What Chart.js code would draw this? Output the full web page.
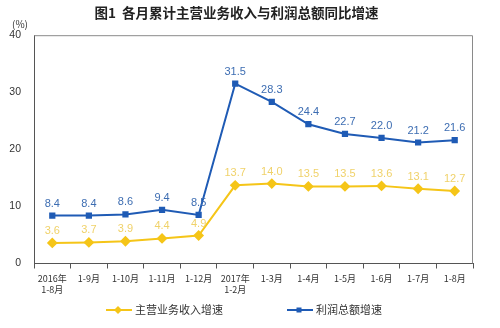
<!DOCTYPE html>
<html>
<head>
<meta charset="utf-8">
<script src="https://cdn.jsdelivr.net/npm/chart.js@4/dist/chart.umd.min.js"></script>
<style>
  html, body { margin: 0; padding: 0; background: #fff; }
  #wrap { width: 500px; height: 328px; }
</style>
</head>
<body>
<div id="wrap"><canvas id="growthChart" width="500" height="328"></canvas></div>
<script>
const months = [
  ["2016年", "1-8月"], "1-9月", "1-10月", "1-11月", "1-12月",
  ["2017年", "1-2月"], "1-3月", "1-4月", "1-5月", "1-6月", "1-7月", "1-8月"
];
const revenueGrowth = [3.6, 3.7, 3.9, 4.4, 4.9, 13.7, 14.0, 13.5, 13.5, 13.6, 13.1, 12.7];
const profitGrowth = [8.4, 8.4, 8.6, 9.4, 8.5, 31.5, 28.3, 24.4, 22.7, 22.0, 21.2, 21.6];
const yTicks = [0, 10, 20, 30, 40];

const BLUE = "#1f5bb5";
const BLUE_LABEL = "#3d6db2";
const YELLOW = "#f5c518";
const YELLOW_LABEL = "#f0d26a";
const CJK = "'Noto Sans CJK SC', 'Noto Sans', sans-serif";
const LATIN = "'Liberation Sans', Arial, sans-serif";

function drawMarker(ctx, shape, x, y) {
  if (shape === "rectRot") {
    ctx.beginPath();
    ctx.moveTo(x, y - 4); ctx.lineTo(x + 4, y); ctx.lineTo(x, y + 4); ctx.lineTo(x - 4, y);
    ctx.closePath(); ctx.fill();
  } else {
    ctx.fillRect(x - 2.5, y - 2.5, 5, 5);
  }
}

// value labels above each point
const valueLabels = {
  id: "valueLabels",
  afterDatasetsDraw(chart) {
    const ctx = chart.ctx;
    ctx.save();
    ctx.font = "11px " + LATIN;
    ctx.textAlign = "center";
    ctx.textBaseline = "middle";
    chart.data.datasets.forEach((ds, i) => {
      const meta = chart.getDatasetMeta(i);
      ctx.fillStyle = ds.labelColor;
      meta.data.forEach((pt, j) => {
        ctx.fillText(ds.data[j].toFixed(1), pt.x, pt.y - 12);
      });
    });
    ctx.restore();
  }
};

// grey frame on top/right plus the unit label
const frame = {
  id: "frame",
  beforeDatasetsDraw(chart) {
    const { ctx, chartArea: a } = chart;
    ctx.save();
    ctx.strokeStyle = "#8a8a8a";
    ctx.lineWidth = 1;
    ctx.beginPath();
    ctx.moveTo(a.left, a.top + 0.5);
    ctx.lineTo(a.right - 0.5, a.top + 0.5);
    ctx.lineTo(a.right - 0.5, a.bottom);
    ctx.stroke();
    ctx.fillStyle = "#333";
    ctx.font = "10px " + CJK;
    ctx.textAlign = "center";
    ctx.textBaseline = "middle";
    ctx.fillText("(%)", a.left - 14, a.top - 11);
    ctx.restore();
  }
};

// legend row under the axis: line with marker, then the series name
const bottomLegend = {
  id: "bottomLegend",
  afterDraw(chart) {
    const ctx = chart.ctx;
    const sets = chart.data.datasets;
    const glyph = 26, textGap = 3, itemGap = 64;
    ctx.save();
    ctx.font = "11px " + CJK;
    ctx.textBaseline = "middle";
    const widths = sets.map(ds => glyph + textGap + ctx.measureText(ds.label).width);
    const total = widths.reduce((s, w) => s + w, 0) + itemGap * (sets.length - 1);
    let x = chart.width / 2 - 6 - total / 2;
    const y = 310;
    sets.forEach((ds, i) => {
      ctx.strokeStyle = ds.borderColor;
      ctx.lineWidth = 2;
      ctx.beginPath(); ctx.moveTo(x, y); ctx.lineTo(x + glyph, y); ctx.stroke();
      ctx.fillStyle = ds.borderColor;
      drawMarker(ctx, ds.pointStyle, x + 12, y);
      ctx.fillStyle = "#333";
      ctx.textAlign = "left";
      ctx.fillText(ds.label, x + glyph + textGap, y);
      x += widths[i] + itemGap;
    });
    ctx.restore();
  }
};

new Chart(document.getElementById("growthChart"), {
  type: "line",
  data: {
    labels: months,
    datasets: [
      {
        label: "主营业务收入增速",
        data: revenueGrowth,
        borderColor: YELLOW,
        backgroundColor: YELLOW,
        labelColor: YELLOW_LABEL,
        borderWidth: 2,
        pointStyle: "rectRot",
        pointRadius: 4,
        tension: 0
      },
      {
        label: "利润总额增速",
        data: profitGrowth,
        borderColor: BLUE,
        backgroundColor: BLUE,
        labelColor: BLUE_LABEL,
        borderWidth: 2,
        pointStyle: "rect",
        pointRadius: 3,
        tension: 0
      }
    ]
  },
  options: {
    responsive: false,
    animation: false,
    layout: { padding: { left: 0, right: 27, top: 0, bottom: 29 } },
    plugins: {
      title: {
        display: true,
        text: "图1  各月累计主营业务收入与利润总额同比增速",
        color: "#222",
        font: { family: CJK, size: 13.5, weight: "bold" },
        padding: { top: 5, bottom: 14 }
      },
      legend: { display: false },
      tooltip: { enabled: false }
    },
    scales: {
      x: {
        offset: true,
        grid: { display: true, offset: true, drawOnChartArea: false, drawTicks: true, tickLength: 5, color: "#555" },
        border: { color: "#555", width: 1 },
        ticks: {
          color: "#333",
          font: { family: CJK, size: 9, lineHeight: 1.25 },
          maxRotation: 0,
          autoSkip: false,
          padding: 4
        }
      },
      y: {
        min: 0,
        max: 40,
        afterFit(scale) { scale.width = 34; },
        afterBuildTicks(scale) { scale.ticks = yTicks.map(v => ({ value: v })); },
        grid: { display: false },
        border: { color: "#555", width: 1 },
        ticks: {
          color: "#333",
          font: { family: LATIN, size: 10.5 },
          padding: 5
        }
      }
    }
  },
  plugins: [frame, valueLabels, bottomLegend]
});
</script>
</body>
</html>
